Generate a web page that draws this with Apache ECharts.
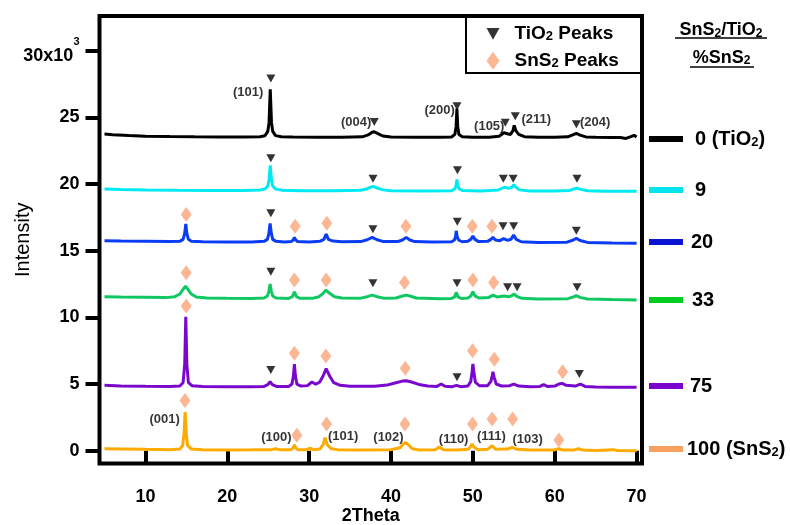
<!DOCTYPE html>
<html><head><meta charset="utf-8">
<script src="https://cdn.jsdelivr.net/npm/echarts@6/dist/echarts.min.js"></script>
<style>html,body{margin:0;padding:0;background:#fff}#c{width:790px;height:525px}</style>
</head><body><div id="c"></div>
<script>
// ---------- data ----------
const xTicks = [10, 20, 30, 40, 50, 60, 70];
const yTicks = [0, 5, 10, 15, 20, 25, 30];
const seriesNames = ['0 (TiO₂)', '9', '20', '33', '75', '100 (SnS₂)'];

const tio2_0 = [[5,23.75],[6,23.7],[8,23.63],[10,23.59],[13,23.56],[16,23.54],[19,23.53],[22,23.53],[24,23.55],[24.6,23.62],[24.95,23.95],[25.1,24.6],[25.25,27.1],[25.4,24.6],[25.55,23.95],[25.9,23.63],[26.6,23.55],[28,23.52],[31,23.5],[34,23.5],[36.5,23.54],[37.2,23.68],[37.7,23.88],[37.95,23.92],[38.4,23.78],[39,23.6],[40,23.52],[43,23.5],[46,23.5],[47.4,23.53],[47.8,23.72],[47.95,24.3],[48.05,25.65],[48.15,24.3],[48.3,23.72],[48.7,23.55],[50,23.5],[52,23.5],[53.2,23.58],[53.8,23.85],[54.2,23.77],[54.6,23.72],[54.9,24.0],[55.05,24.4],[55.25,24.0],[55.6,23.72],[56.3,23.55],[58,23.5],[60,23.5],[61.6,23.54],[62.2,23.68],[62.65,23.8],[63.1,23.67],[63.8,23.53],[65,23.5],[67,23.49],[68,23.48],[68.7,23.42],[69.3,23.55],[69.7,23.65],[70,23.52]];
const sns2_9 = [[5,19.62],[7,19.58],[10,19.55],[14,19.53],[18,19.52],[22,19.52],[24,19.55],[24.6,19.62],[24.95,19.85],[25.1,20.3],[25.25,21.4],[25.4,20.3],[25.55,19.85],[25.9,19.62],[26.6,19.54],[29,19.5],[33,19.5],[36.3,19.53],[37.1,19.65],[37.6,19.78],[37.85,19.82],[38.3,19.7],[39,19.56],[40,19.5],[44,19.48],[47.4,19.5],[47.8,19.65],[47.95,19.9],[48.05,20.35],[48.15,19.9],[48.3,19.65],[48.7,19.52],[51,19.48],[53.1,19.55],[53.7,19.72],[54.0,19.75],[54.35,19.68],[54.75,19.75],[55.0,19.95],[55.25,19.75],[55.7,19.56],[57,19.48],[60,19.48],[61.8,19.52],[62.3,19.62],[62.7,19.68],[63.2,19.6],[64,19.5],[66,19.46],[68,19.45],[70,19.45]];
const sns2_20 = [[5,15.74],[7,15.72],[10,15.7],[13,15.68],[14.2,15.7],[14.6,15.85],[14.8,16.3],[14.93,17.0],[15.06,16.3],[15.25,15.85],[15.6,15.7],[17,15.67],[20,15.66],[23,15.66],[24.5,15.7],[24.9,15.85],[25.08,16.3],[25.23,17.05],[25.38,16.3],[25.55,15.85],[25.95,15.7],[27,15.66],[27.8,15.68],[28.05,15.8],[28.2,16.0],[28.35,15.8],[28.6,15.68],[30,15.66],[31.3,15.7],[31.8,15.85],[32.08,16.24],[32.35,15.85],[32.9,15.72],[34,15.67],[36.3,15.68],[37.1,15.82],[37.7,16.0],[38.3,15.82],[39.1,15.68],[40.8,15.68],[41.4,15.8],[41.86,16.0],[42.3,15.8],[42.9,15.68],[45,15.65],[47.4,15.67],[47.75,15.8],[47.88,16.05],[47.97,16.49],[48.08,16.05],[48.25,15.8],[48.7,15.67],[49.4,15.7],[49.75,15.85],[50.0,16.1],[50.25,15.85],[50.7,15.68],[51.8,15.7],[52.2,15.85],[52.45,16.0],[52.75,15.8],[53.3,15.75],[53.75,15.9],[54.25,15.78],[54.65,15.85],[54.98,16.17],[55.3,15.85],[55.9,15.67],[58,15.62],[61.5,15.64],[62.2,15.78],[62.64,15.92],[63.1,15.76],[64,15.62],[67,15.58],[70,15.56]];
const sns2_33 = [[5,11.55],[7,11.52],[10,11.5],[12.5,11.48],[13.6,11.55],[14.2,11.75],[14.6,12.1],[14.9,12.35],[15.2,12.1],[15.6,11.75],[16.2,11.52],[17.5,11.45],[20,11.43],[23,11.42],[24.5,11.45],[24.9,11.6],[25.08,11.95],[25.23,12.5],[25.38,11.95],[25.55,11.6],[25.95,11.45],[27.5,11.42],[27.95,11.55],[28.2,11.92],[28.45,11.55],[28.9,11.43],[30.5,11.44],[31.2,11.55],[31.7,11.8],[32.05,12.05],[32.5,11.8],[33.1,11.55],[34,11.45],[36.3,11.44],[37.1,11.55],[37.7,11.67],[38.3,11.55],[39.1,11.44],[40.6,11.45],[41.3,11.58],[41.86,11.67],[42.4,11.58],[43.1,11.45],[46,11.4],[47.4,11.42],[47.75,11.52],[47.97,11.87],[48.2,11.52],[48.6,11.42],[49.4,11.45],[49.75,11.6],[50.0,11.92],[50.28,11.6],[50.8,11.45],[51.9,11.48],[52.45,11.67],[53.0,11.52],[53.8,11.6],[54.4,11.55],[54.75,11.62],[55.0,11.75],[55.35,11.58],[56,11.43],[58,11.38],[61.6,11.4],[62.2,11.52],[62.64,11.62],[63.1,11.5],[64,11.38],[67,11.33],[70,11.3]];
const sns2_75 = [[5,4.9],[7,4.86],[10,4.83],[13,4.82],[14.2,4.85],[14.6,5.1],[14.8,6.5],[14.93,10.05],[15.06,6.5],[15.25,5.1],[15.7,4.87],[17,4.82],[20,4.8],[23,4.8],[24.5,4.82],[24.95,4.95],[25.23,5.17],[25.5,4.95],[26,4.82],[27.5,4.82],[27.9,5.0],[28.08,5.6],[28.2,6.5],[28.32,5.6],[28.5,5.0],[29,4.85],[29.8,4.88],[30.33,5.15],[30.8,4.98],[31.3,5.15],[31.7,5.6],[32.08,6.15],[32.5,5.6],[33.0,5.1],[33.8,4.9],[35,4.83],[38,4.83],[39.5,4.92],[40.6,5.1],[41.4,5.22],[41.86,5.25],[42.5,5.15],[43.4,4.97],[44.5,4.85],[45.6,4.82],[46.13,5.0],[46.6,4.83],[47.5,4.8],[48.0,4.9],[48.5,4.8],[49.4,4.85],[49.75,5.2],[49.9,5.9],[50.0,6.5],[50.12,5.9],[50.3,5.15],[50.8,4.87],[51.8,4.88],[52.2,5.2],[52.35,5.6],[52.45,5.92],[52.6,5.5],[52.85,5.0],[53.5,4.85],[54.5,4.88],[55.0,5.0],[55.6,4.85],[57,4.8],[58.2,4.82],[58.64,4.95],[59.1,4.82],[60,4.85],[60.5,5.0],[60.9,5.05],[61.4,4.9],[62.5,4.85],[63.13,5.0],[63.7,4.82],[65,4.78],[67,4.76],[70,4.75]];
const sns2_100 = [[5,0.15],[7,0.13],[10,0.1],[13,0.08],[14.2,0.12],[14.55,0.4],[14.72,1.3],[14.85,2.9],[14.98,1.3],[15.15,0.4],[15.6,0.12],[17,0.07],[20,0.06],[23,0.07],[25.4,0.08],[25.9,0.15],[26.4,0.08],[27.8,0.08],[28.05,0.22],[28.2,0.44],[28.35,0.22],[28.6,0.08],[29.7,0.08],[30.1,0.2],[30.5,0.08],[31.3,0.12],[31.7,0.45],[31.95,0.97],[32.2,0.45],[32.7,0.15],[33.5,0.08],[36,0.06],[40,0.08],[41.1,0.22],[41.5,0.5],[41.75,0.62],[42.1,0.45],[42.6,0.15],[43.5,0.06],[45.4,0.08],[45.9,0.28],[46.4,0.08],[48,0.05],[49.4,0.1],[49.72,0.3],[49.9,0.5],[50.1,0.3],[50.6,0.08],[51.8,0.1],[52.35,0.37],[52.8,0.1],[54.2,0.12],[54.8,0.25],[55.4,0.1],[57,0.05],[60,0.06],[60.5,0.15],[61,0.05],[62.4,0.06],[62.9,0.15],[63.4,0.05],[65,0.02],[67.2,0.08],[67.6,0.02],[70,0.0]];

// peak markers
const tio2Peaks = [[25.32,27.92],[37.95,24.65],[48.06,25.84],[53.96,24.59],[55.18,25.09],[62.64,24.49],
  [25.32,21.93],[37.8,20.39],[48.12,21.04],[53.72,20.39],[54.92,20.39],[62.72,20.39],
  [25.32,17.8],[37.79,16.6],[48.1,17.17],[53.68,16.84],[54.98,16.84],[62.64,16.49],
  [25.32,13.42],[37.79,12.55],[48.06,12.55],[54.24,12.25],[55.4,12.25],[62.73,12.25],
  [25.32,6.05],[48.06,5.5],[63.0,5.75]];
const sns2Peaks = [[14.98,17.72],[28.29,16.84],[32.16,17.05],[41.82,16.84],[49.93,16.84],[52.33,16.84],
  [14.98,13.34],[28.2,12.8],[32.08,12.8],[41.65,12.62],[50.0,12.8],[52.53,12.62],
  [14.98,10.85],[28.2,7.3],[32.04,7.1],[41.74,6.18],[49.96,7.5],[52.62,6.85],[60.97,5.92],
  [14.83,3.76],[28.5,1.15],[32.13,2.01],[41.69,2.01],[49.96,2.01],[52.35,2.38],[54.86,2.38],[60.5,0.81]];
// Miller-index labels
const tio2Hkl = [[22.54,26.89,'(101)'],[35.75,24.6,'(004)'],[45.95,25.55,'(200)'],[52.0,24.34,'(105)'],[57.75,24.81,'(211)'],[64.93,24.62,'(204)']];
const sns2Hkl = [[12.35,2.32,'(001)'],[26.0,0.97,'(100)'],[34.16,1.07,'(101)'],[39.69,1.02,'(102)'],[47.65,0.83,'(110)'],[52.27,1.07,'(111)'],[56.69,0.88,'(103)']];

// ---------- styles ----------
const FONT = '"Liberation Sans", Arial, sans-serif';
const lineColors = ['#000000', '#00eaf2', '#0a3cf5', '#10c862', '#7a08cc', '#ffaa00'];
const swatchColors = ['#000000', '#00e5ee', '#0a14d2', '#00cc22', '#7a00cc', '#f8a060'];
const diamondColor = '#fba479';
const triPath = 'path://M0,0L10,0L5,9Z';

const allSeriesData = [tio2_0, sns2_9, sns2_20, sns2_33, sns2_75, sns2_100];

function sub(str, a, s) {
  return str.split('₂').map(p => p ? '{' + a + '|' + p + '}' : '').join('{' + s + '|2}');
}

const chart = echarts.init(document.getElementById('c'), null, {renderer: 'canvas'});

const series = allSeriesData.map((d, i) => ({
  type: 'line', name: seriesNames[i], data: d, showSymbol: false, symbol: 'none',
  lineStyle: {color: lineColors[i], width: 3}, itemStyle: {color: lineColors[i]},
  z: 2, silent: true
}));
series.push({type: 'scatter', name: 'TiO₂ Peaks', data: tio2Peaks, symbol: triPath, symbolSize: [9, 8],
  symbolKeepAspect: false, itemStyle: {color: '#000'}, z: 4, silent: true});
series.push({type: 'scatter', name: 'SnS₂ Peaks', data: sns2Peaks, symbol: 'diamond', symbolSize: [11, 15],
  itemStyle: {color: diamondColor}, z: 4, silent: true});
const hklLabel = {show: true, position: 'inside', formatter: p => p.value[2], color: '#000',
  fontSize: 13, fontWeight: 'bold', fontFamily: FONT};
series.push({type: 'scatter', name: 'hkl1', data: tio2Hkl, symbolSize: 1, itemStyle: {color: 'rgba(0,0,0,0)'},
  label: hklLabel, z: 5, silent: true});
series.push({type: 'scatter', name: 'hkl2', data: sns2Hkl, symbolSize: 1, itemStyle: {color: 'rgba(0,0,0,0)'},
  label: hklLabel, z: 5, silent: true});

// right side legend rows (layout only)
const rowY = [139, 190, 242, 300, 386, 449];
const rowX = [695, 695, 691, 692, 690, 687];
const rich = {
  a: {fontSize: 20, fontWeight: 'bold', fontFamily: FONT, fill: '#000', color: '#000'},
  s: {fontSize: 13, fontWeight: 'bold', fontFamily: FONT, fill: '#000', color: '#000', verticalAlign: 'bottom'}
};
const hRich = {h: {fontSize: 18, fontWeight: 'bold', fontFamily: FONT, fill: '#000'},
  hs: {fontSize: 12, fontWeight: 'bold', fontFamily: FONT, fill: '#000', verticalAlign: 'bottom'}};
const graphic = [];
graphic.push({type: 'rect', shape: {x: 466, y: 16, width: 175, height: 57},
  style: {fill: 'rgba(0,0,0,0)', stroke: '#000', lineWidth: 2}, z: 10});
graphic.push({type: 'text', x: 721, y: 30.5, style: {text: sub('SnS₂/TiO₂', 'h', 'hs'), align: 'center', verticalAlign: 'middle', rich: hRich}});
graphic.push({type: 'line', shape: {x1: 675, y1: 38, x2: 767, y2: 38}, style: {stroke: '#000', lineWidth: 1.5}});
graphic.push({type: 'text', x: 721.5, y: 58, style: {text: sub('%SnS₂', 'h', 'hs'), align: 'center', verticalAlign: 'middle', rich: hRich}});
graphic.push({type: 'line', shape: {x1: 690, y1: 67, x2: 754, y2: 67}, style: {stroke: '#000', lineWidth: 1.5}});
seriesNames.forEach((n, i) => {
  graphic.push({type: 'rect', shape: {x: 649, y: rowY[i] - 3, width: 34, height: 6}, style: {fill: swatchColors[i]}});
  graphic.push({type: 'text', x: rowX[i], y: rowY[i], style: {text: sub(n, 'a', 's'), align: 'left', verticalAlign: 'middle', rich: rich}});
});

chart.setOption({
  animation: false,
  backgroundColor: '#fff',
  grid: {show: true, left: 99.5, top: 16, width: 542.5, height: 447.5, borderColor: '#000', borderWidth: 4,
    backgroundColor: 'rgba(0,0,0,0)', containLabel: false, outerBoundsMode: 'none'},
  xAxis: {
    type: 'value', min: 4.39, max: 70.66, splitLine: {show: false}, axisLine: {show: false},
    axisTick: {show: true, length: 13, lineStyle: {color: '#000', width: 4}, customValues: xTicks},
    axisLabel: {customValues: xTicks, margin: 25, fontSize: 18, fontWeight: 'bold', color: '#000', fontFamily: FONT},
    name: '2Theta', nameLocation: 'middle', nameGap: 44, nameMoveOverlap: false,
    nameTextStyle: {fontSize: 18, fontWeight: 'bold', color: '#000', fontFamily: FONT}
  },
  yAxis: {
    type: 'value', min: -0.96, max: 32.6, splitLine: {show: false}, axisLine: {show: false},
    axisTick: {show: true, length: 14, lineStyle: {color: '#000', width: 4}, customValues: yTicks},
    axisLabel: {customValues: yTicks, margin: 20, fontSize: 18, fontWeight: 'bold', color: '#000', fontFamily: FONT,
      formatter: v => v === 30 ? '{m|30x10}{e|3}' : String(v),
      rich: {
        m: {fontSize: 18, fontWeight: 'bold', fontFamily: FONT, color: '#000', verticalAlign: 'bottom'},
        e: {fontSize: 11, fontWeight: 'bold', fontFamily: FONT, color: '#000', verticalAlign: 'top', padding: [0, 0, 17, 0]}
      }},
    name: 'Intensity', nameLocation: 'middle', nameGap: 66, nameRotate: 90, nameMoveOverlap: false,
    nameTextStyle: {fontSize: 20, fontWeight: 'normal', color: '#000', fontFamily: FONT}
  },
  legend: {
    show: true, orient: 'vertical', left: 486.5, top: 24.3, padding: 0, itemGap: 8,
    itemWidth: 13, itemHeight: 18, selectedMode: false,
    data: [{name: 'TiO₂ Peaks', icon: triPath}, {name: 'SnS₂ Peaks', icon: 'diamond'}],
    formatter: n => sub(n, 'a', 's'),
    textStyle: {padding: [0, 0, 0, 10], fontSize: 19, fontWeight: 'bold', color: '#000', fontFamily: FONT,
      rich: {a: {fontSize: 19, fontWeight: 'bold', fontFamily: FONT, color: '#000'},
             s: {fontSize: 13, fontWeight: 'bold', fontFamily: FONT, color: '#000', verticalAlign: 'bottom'}}}
  },
  graphic: graphic,
  series: series
});
</script>
</body></html>
